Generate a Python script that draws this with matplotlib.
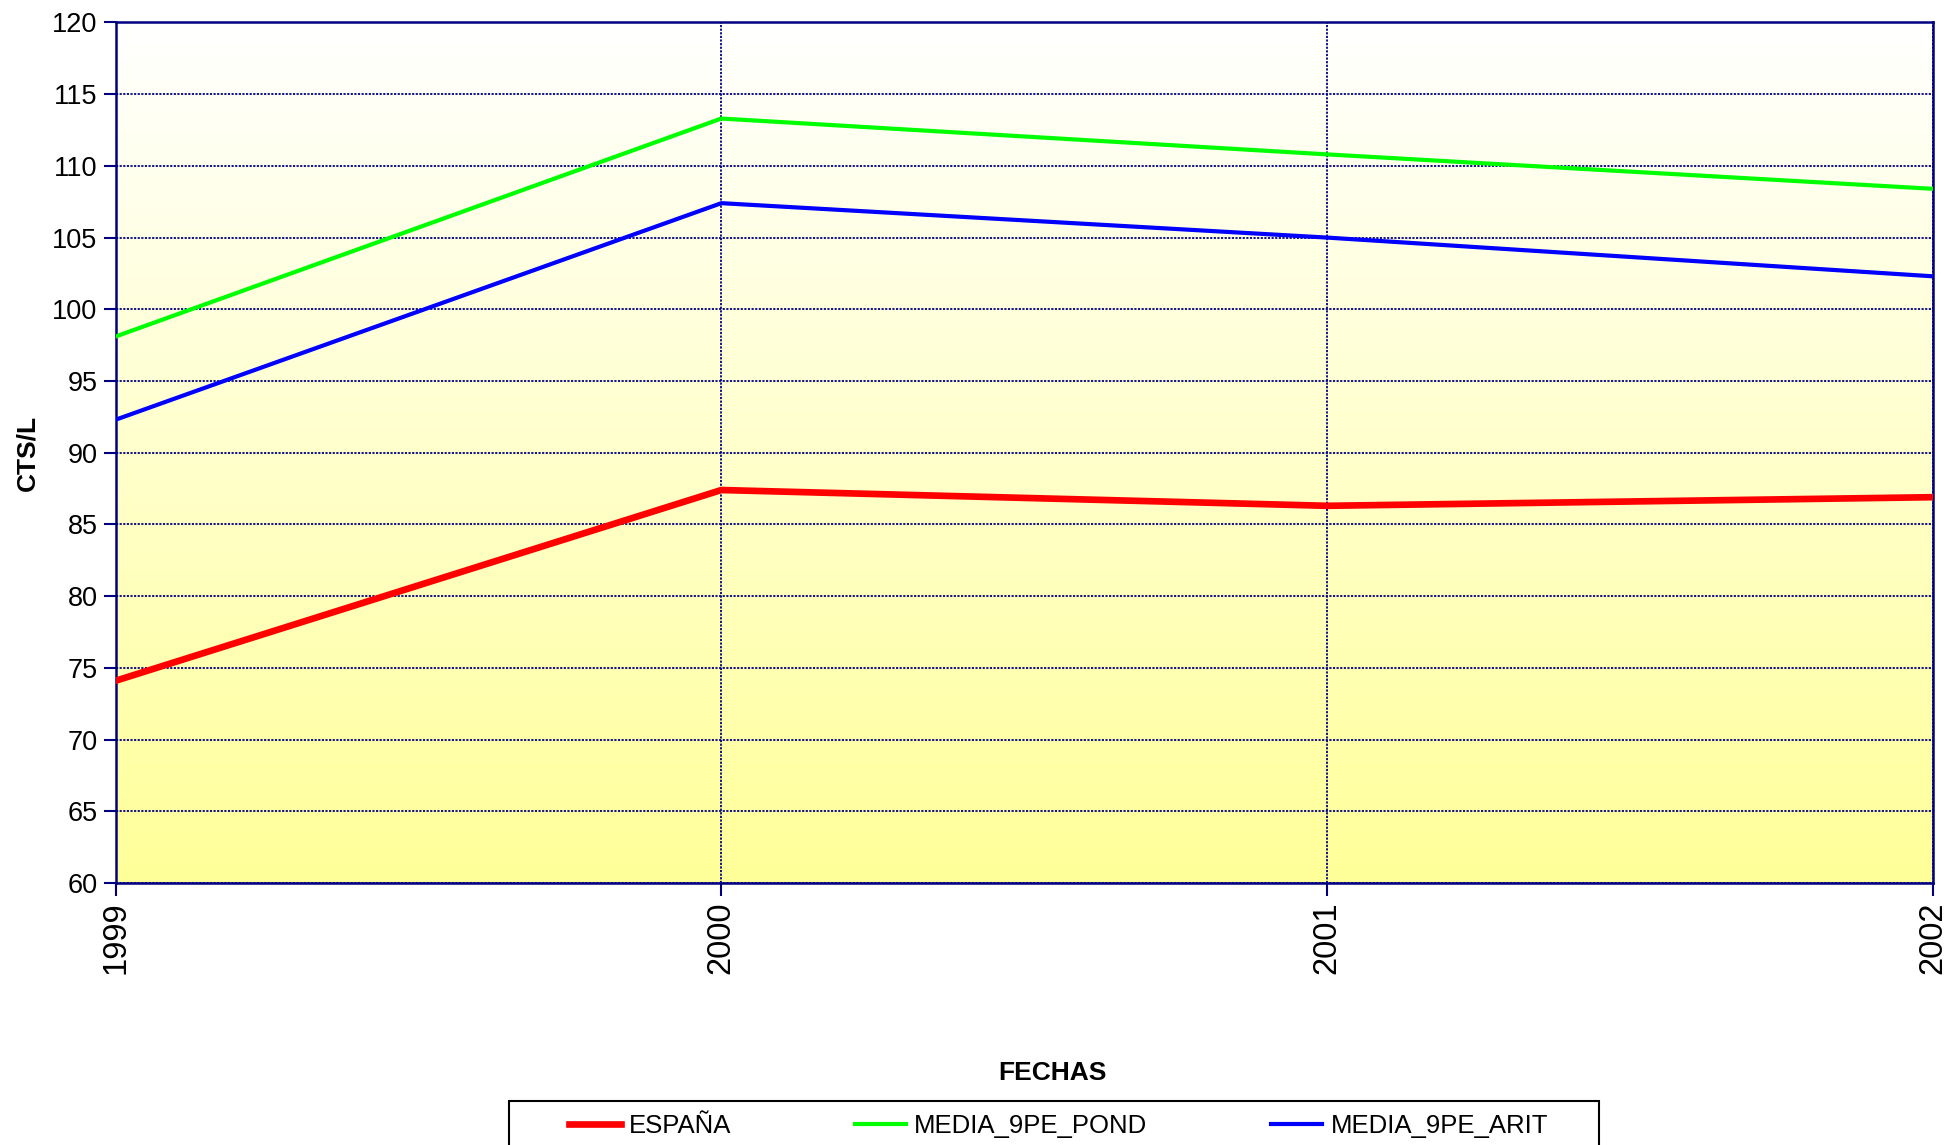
import numpy as np
import matplotlib
matplotlib.use("Agg")
import matplotlib.pyplot as plt
from matplotlib.colors import LinearSegmentedColormap
from matplotlib.patches import Rectangle

years = ["1999", "2000", "2001", "2002"]
espana = [74.1, 87.4, 86.3, 86.9]
media_pond = [98.1, 113.3, 110.8, 108.4]
media_arit = [92.3, 107.4, 105.0, 102.3]
yticks = list(range(60, 121, 5))

plt.rcParams['font.family'] = ['Liberation Sans', 'DejaVu Sans']
navy = '#000080'

fig = plt.figure(figsize=(19.48, 11.45), dpi=100)
ax = fig.add_axes([0.0593, 0.2288, 0.9330, 0.7516])

x = np.arange(len(years))
ax.set_xlim(0, len(years) - 1)
ax.set_ylim(60, 120)

# gradient background: white at top to pale yellow at bottom
cmap = LinearSegmentedColormap.from_list('bg', ['#FFFF99', '#FFFFFF'])
grad = np.linspace(0, 1, 256).reshape(-1, 1)
ax.imshow(grad, aspect='auto', cmap=cmap, origin='lower',
          extent=[0, len(years) - 1, 60, 120], zorder=0, interpolation='bicubic')

ax.grid(True, which='major', color=navy, linestyle=(0, (1.2, 0.8)), linewidth=1.3, zorder=1)

ax.plot(x, espana, color='#FF0000', linewidth=4.8, label='ESPAÑA', zorder=3)
ax.plot(x, media_pond, color='#00FF00', linewidth=3.0, label='MEDIA_9PE_POND', zorder=3)
ax.plot(x, media_arit, color='#0000FF', linewidth=3.0, label='MEDIA_9PE_ARIT', zorder=3)

ax.set_xticks(x)
ax.set_xticklabels(years, rotation=90, fontsize=23.5)
ax.set_yticks(yticks)
ax.set_yticklabels([str(v) for v in yticks], fontsize=19.5)
ax.tick_params(axis='both', direction='out', color=navy, length=9, width=1.5, pad=4)

for s in ax.spines.values():
    s.set_color(navy)
    s.set_linewidth(1.8)

ax.set_ylabel('CTS/L', fontsize=19, fontweight='bold', labelpad=9)
fig.text(0.5405, 0.0625, 'FECHAS', fontsize=19, fontweight='bold', ha='center', va='center')

# legend frame (extends below the figure edge, as in the reference)
fig.patches.append(Rectangle((0.2613, -0.05), 0.5596, 0.0884, transform=fig.transFigure,
                             facecolor='white', edgecolor='black', linewidth=1.5, zorder=1))
leg = fig.legend(loc='center', bbox_to_anchor=(0.5435, 0.0165), ncol=3,
                 prop={'size': 18.5}, frameon=False, handlelength=2.0,
                 handletextpad=0.32, columnspacing=4.8, borderpad=0, borderaxespad=0)
leg.set_zorder(2)

fig.savefig('out.png', dpi=100)
